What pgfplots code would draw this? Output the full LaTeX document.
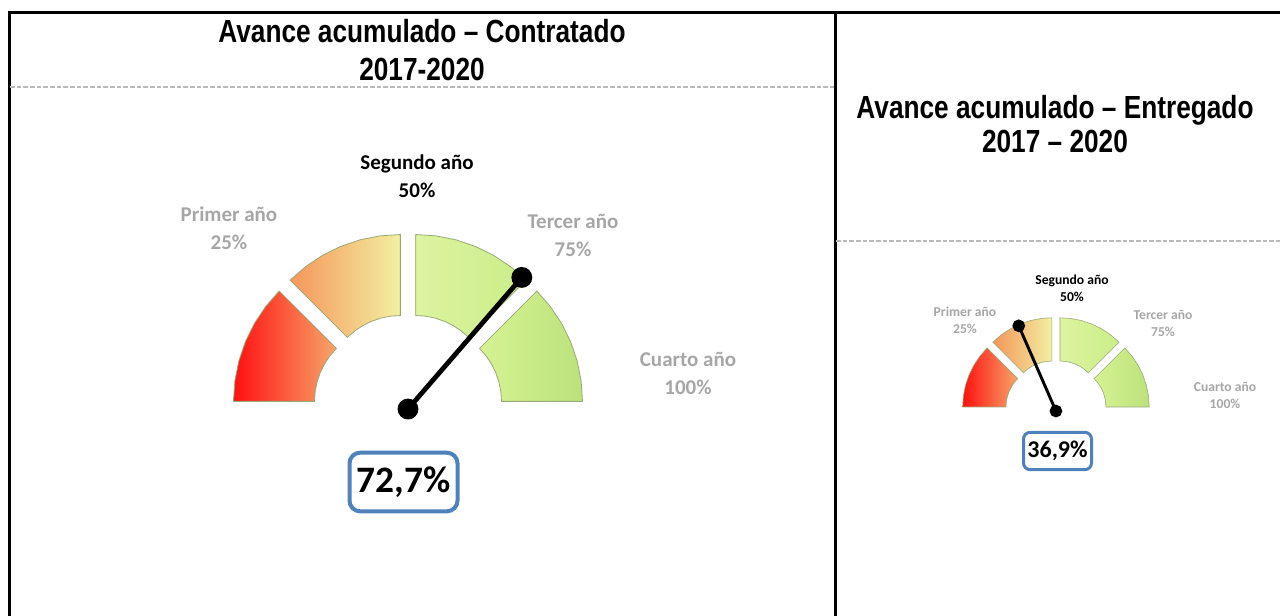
\documentclass[border=0pt]{standalone}
\usepackage{pgfplots}
\pgfplotsset{compat=1.18}
\usepackage{pgfplotstable}
\usepackage{fontspec}
\setmainfont{Carlito}
\newfontfamily\titlefont{Liberation Sans}[FakeStretch=0.82]
\definecolor{lab}{HTML}{A6A6A6}
\definecolor{boxblue}{HTML}{4F81BD}
\definecolor{s1l}{HTML}{FF1010}
\definecolor{s1r}{HTML}{F6A66A}
\definecolor{s2l}{HTML}{F5965A}
\definecolor{s2r}{HTML}{F2F0A2}
\definecolor{s3l}{HTML}{DDF3A0}
\definecolor{s3r}{HTML}{CAEE88}
\definecolor{s4l}{HTML}{D6F292}
\definecolor{s4r}{HTML}{BCE27C}
\definecolor{rim}{HTML}{9AA878}

% gauge segments: angle (deg), radius (outer 156, inner 75); 25% each
\pgfplotstableread{
a r
180 156
172.5 156
165 156
157.5 156
150 156
142.5 156
135 156
135 75
142.5 75
150 75
157.5 75
165 75
172.5 75
180 75
}\segA
\pgfplotstableread{
a r
135 156
127.5 156
120 156
112.5 156
105 156
97.5 156
90 156
90 75
97.5 75
105 75
112.5 75
120 75
127.5 75
135 75
}\segB
\pgfplotstableread{
a r
90 156
82.5 156
75 156
67.5 156
60 156
52.5 156
45 156
45 75
52.5 75
60 75
67.5 75
75 75
82.5 75
90 75
}\segC
\pgfplotstableread{
a r
45 156
37.5 156
30 156
22.5 156
15 156
7.5 156
0 156
0 75
7.5 75
15 75
22.5 75
30 75
37.5 75
45 75
}\segD

\begin{document}
\begin{tikzpicture}[x=0.75pt,y=-0.75pt]
\path[use as bounding box] (0,0) rectangle (1280,615);
% table frame
\draw[line width=2.25pt] (9,616) -- (9,12) -- (1281,12);
\draw[line width=2.25pt] (835,12) -- (835,616);
\draw[lab!80, line width=0.9pt, dash pattern=on 3.5pt off 1.5pt] (10,87) -- (834,87);
\draw[lab!80, line width=0.9pt, dash pattern=on 3.5pt off 1.5pt] (836,241) -- (1280,241);
% titles
\node[font=\titlefont\bfseries\fontsize{24}{28}\selectfont, align=center] at (422,50) {Avance acumulado – Contratado\\2017-2020};
\node[font=\titlefont\bfseries\fontsize{24}{25.5}\selectfont, align=center] at (1055,124) {Avance acumulado – Entregado\\2017 – 2020};

% left gauge
\begin{axis}[at={(156pt,-321.75pt)}, anchor=south west, x=0.75pt, y=0.75pt,
  xmin=-200, xmax=200, ymin=-20, ymax=200, hide axis, clip=false]
\addplot[data cs=polar, left color=s1l, right color=s1r, draw=rim, line width=0.6pt, xshift=-13.86pt, yshift=5.74pt] table[x=a,y=r]{\segA} -- cycle;
\addplot[data cs=polar, left color=s2l, right color=s2r, draw=rim, line width=0.6pt, xshift=-5.74pt, yshift=13.86pt] table[x=a,y=r]{\segB} -- cycle;
\addplot[data cs=polar, left color=s3l, right color=s3r, draw=rim, line width=0.6pt, xshift=5.74pt, yshift=13.86pt] table[x=a,y=r]{\segC} -- cycle;
\addplot[data cs=polar, left color=s4l, right color=s4r, draw=rim, line width=0.6pt, xshift=13.86pt, yshift=5.74pt] table[x=a,y=r]{\segD} -- cycle;
% needle: 72.7% -> 180*(1-0.727) = 49.14 deg
\addplot[data cs=polar, black, line width=3.6pt, mark=*, mark size=6pt, mark options={fill=black}] coordinates {(0,0) (49.14,174)};
\end{axis}

% right gauge (scale 0.535)
\begin{axis}[at={(711.75pt,-316.3pt)}, anchor=south west, x=0.401pt, y=0.401pt,
  xmin=-200, xmax=200, ymin=-20, ymax=200, hide axis, clip=false]
\addplot[data cs=polar, left color=s1l, right color=s1r, draw=rim, line width=0.45pt, xshift=-7.41pt, yshift=3.07pt] table[x=a,y=r]{\segA} -- cycle;
\addplot[data cs=polar, left color=s2l, right color=s2r, draw=rim, line width=0.45pt, xshift=-3.07pt, yshift=7.41pt] table[x=a,y=r]{\segB} -- cycle;
\addplot[data cs=polar, left color=s3l, right color=s3r, draw=rim, line width=0.45pt, xshift=3.07pt, yshift=7.41pt] table[x=a,y=r]{\segC} -- cycle;
\addplot[data cs=polar, left color=s4l, right color=s4r, draw=rim, line width=0.45pt, xshift=7.41pt, yshift=3.07pt] table[x=a,y=r]{\segD} -- cycle;
% needle: 36.9% -> 180*(1-0.369) = 113.58 deg
\addplot[data cs=polar, black, line width=2.2pt, mark=*, mark size=3.6pt, mark options={fill=black}] coordinates {(0,0) (113.58,174)};
\end{axis}

% left gauge labels
\node[font=\bfseries\fontsize{15.75}{21}\selectfont, align=center, text=black] at (417,176) {Segundo año\\50\%};
\node[font=\bfseries\fontsize{15.75}{21}\selectfont, align=center, text=lab] at (229,228) {Primer año\\25\%};
\node[font=\bfseries\fontsize{15.75}{21}\selectfont, align=center, text=lab] at (573,235) {Tercer año\\75\%};
\node[font=\bfseries\fontsize{15.75}{21}\selectfont, align=center, text=lab] at (688,373) {Cuarto año\\100\%};
\node[draw=boxblue, line width=3pt, rounded corners=8pt, minimum width=81pt, minimum height=44pt, inner sep=0pt,
  font=\bfseries\fontsize{28}{32}\selectfont] at (403.5,482) {72,7\%};

% right gauge labels
\node[font=\bfseries\fontsize{10.2}{12.75}\selectfont, align=center, text=black] at (1072,288.5) {Segundo año\\50\%};
\node[font=\bfseries\fontsize{10.2}{12.75}\selectfont, align=center, text=lab] at (965,320) {Primer año\\25\%};
\node[font=\bfseries\fontsize{10.2}{12.75}\selectfont, align=center, text=lab] at (1163,323.5) {Tercer año\\75\%};
\node[font=\bfseries\fontsize{10.2}{12.75}\selectfont, align=center, text=lab] at (1225,395.5) {Cuarto año\\100\%};
\node[draw=boxblue, line width=2.25pt, rounded corners=5pt, minimum width=51pt, minimum height=28pt, inner sep=0pt,
  font=\bfseries\fontsize{18}{21}\selectfont] at (1057.5,451) {36,9\%};
\end{tikzpicture}
\end{document}
